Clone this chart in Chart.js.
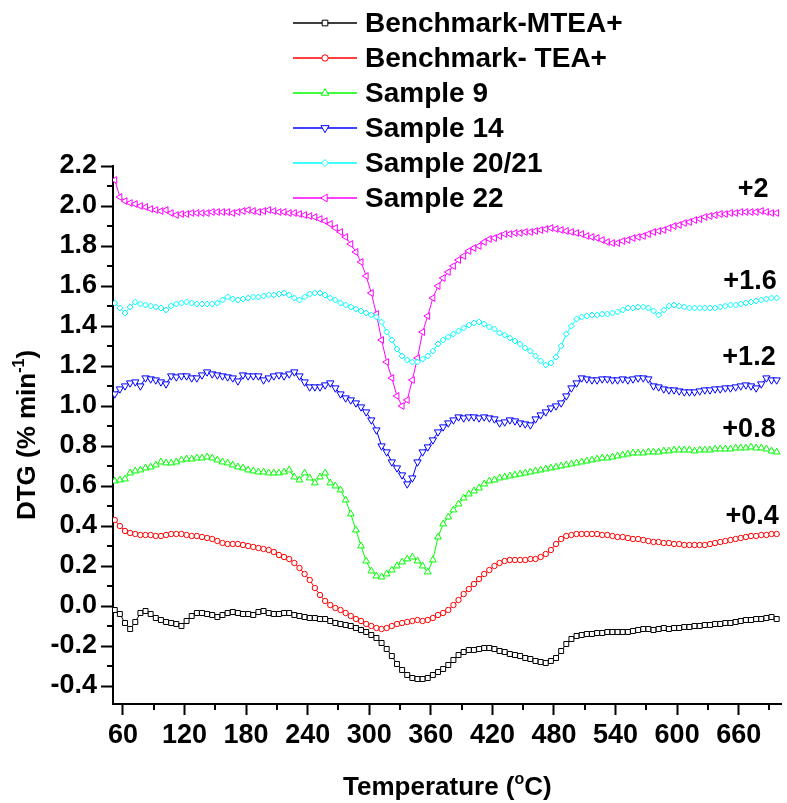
<!DOCTYPE html>
<html>
<head>
<meta charset="utf-8">
<script src="https://cdn.jsdelivr.net/npm/chart.js@4/dist/chart.umd.min.js"></script>
<style>
  html, body { margin: 0; padding: 0; background: #fff; }
  canvas { display: block; }
</style>
</head>
<body>
<canvas id="dtg" width="787" height="803"></canvas>
<script>
// Temperature grid (°C)
const temps = [
  52,57,62,67,72,77,82,87,92,97,
  102,107,112,117,122,127,132,137,142,147,
  152,157,162,167,172,177,182,187,192,197,
  202,207,212,217,222,227,232,237,242,247,
  252,257,262,267,272,277,282,287,292,297,
  302,307,312,317,322,327,332,337,342,347,
  352,357,362,367,372,377,382,387,392,397,
  402,407,412,417,422,427,432,437,442,447,
  452,457,462,467,472,477,482,487,492,497,
  502,507,512,517,522,527,532,537,542,547,
  552,557,562,567,572,577,582,587,592,597,
  602,607,612,617,622,627,632,637,642,647,
  652,657,662,667,672,677,682,687,692,697
];

// DTG (% min-1), curves already shifted as in the figure
const mteaValues = [
  -0.02,-0.04,-0.085,-0.115,-0.08,-0.035,-0.025,-0.04,-0.06,-0.07,
  -0.08,-0.085,-0.09,-0.1,-0.075,-0.05,-0.035,-0.035,-0.04,-0.045,
  -0.055,-0.045,-0.035,-0.03,-0.035,-0.04,-0.04,-0.045,-0.03,-0.025,
  -0.035,-0.04,-0.04,-0.035,-0.035,-0.045,-0.05,-0.055,-0.06,-0.06,
  -0.065,-0.065,-0.075,-0.085,-0.09,-0.095,-0.1,-0.11,-0.12,-0.13,
  -0.145,-0.16,-0.185,-0.215,-0.25,-0.29,-0.32,-0.345,-0.36,-0.365,
  -0.365,-0.36,-0.345,-0.33,-0.315,-0.295,-0.27,-0.245,-0.23,-0.22,
  -0.22,-0.215,-0.21,-0.21,-0.215,-0.225,-0.23,-0.24,-0.245,-0.25,
  -0.26,-0.265,-0.275,-0.28,-0.285,-0.275,-0.26,-0.225,-0.19,-0.165,
  -0.15,-0.145,-0.14,-0.14,-0.135,-0.135,-0.13,-0.13,-0.13,-0.13,
  -0.13,-0.125,-0.12,-0.115,-0.115,-0.12,-0.115,-0.11,-0.115,-0.11,
  -0.11,-0.105,-0.105,-0.1,-0.1,-0.095,-0.095,-0.09,-0.09,-0.085,
  -0.085,-0.08,-0.075,-0.07,-0.07,-0.065,-0.065,-0.06,-0.055,-0.065
];
const teaValues = [
  0.43,0.40,0.375,0.365,0.36,0.355,0.355,0.355,0.35,0.35,
  0.355,0.36,0.36,0.36,0.355,0.35,0.35,0.345,0.34,0.335,
  0.325,0.315,0.31,0.31,0.31,0.305,0.3,0.295,0.29,0.285,
  0.28,0.27,0.255,0.245,0.235,0.215,0.19,0.16,0.13,0.09,
  0.055,0.025,0.005,-0.01,-0.02,-0.035,-0.05,-0.065,-0.075,-0.09,
  -0.1,-0.11,-0.115,-0.11,-0.1,-0.09,-0.085,-0.08,-0.075,-0.07,
  -0.075,-0.07,-0.06,-0.045,-0.035,-0.02,0.005,0.03,0.06,0.085,
  0.11,0.135,0.16,0.18,0.2,0.215,0.225,0.23,0.23,0.23,
  0.23,0.235,0.235,0.245,0.26,0.28,0.31,0.335,0.35,0.355,
  0.36,0.36,0.36,0.36,0.36,0.355,0.355,0.35,0.345,0.345,
  0.34,0.335,0.335,0.33,0.325,0.32,0.32,0.315,0.315,0.31,
  0.31,0.305,0.305,0.305,0.305,0.305,0.31,0.315,0.32,0.325,
  0.33,0.335,0.34,0.345,0.35,0.35,0.355,0.355,0.36,0.36
];
const sample9Values = [
  0.625,0.63,0.635,0.665,0.675,0.68,0.69,0.695,0.705,0.72,
  0.715,0.715,0.72,0.73,0.735,0.735,0.74,0.74,0.745,0.74,
  0.73,0.72,0.715,0.705,0.695,0.69,0.68,0.675,0.67,0.67,
  0.665,0.665,0.665,0.67,0.68,0.645,0.63,0.665,0.64,0.615,
  0.645,0.665,0.615,0.6,0.58,0.53,0.46,0.38,0.3,0.225,
  0.175,0.15,0.145,0.16,0.18,0.2,0.22,0.235,0.245,0.225,
  0.2,0.17,0.23,0.345,0.41,0.445,0.48,0.51,0.54,0.56,
  0.575,0.59,0.61,0.625,0.63,0.64,0.645,0.65,0.655,0.66,
  0.665,0.67,0.675,0.68,0.685,0.69,0.695,0.7,0.705,0.71,
  0.715,0.72,0.725,0.73,0.735,0.74,0.74,0.745,0.75,0.755,
  0.76,0.765,0.765,0.765,0.77,0.77,0.77,0.775,0.775,0.78,
  0.78,0.78,0.78,0.775,0.78,0.78,0.78,0.785,0.785,0.785,
  0.785,0.79,0.79,0.79,0.795,0.79,0.79,0.785,0.775,0.77
];
const sample14Values = [
  1.06,1.085,1.1,1.115,1.12,1.1,1.14,1.135,1.13,1.12,
  1.11,1.15,1.145,1.15,1.15,1.14,1.14,1.155,1.17,1.16,
  1.155,1.15,1.145,1.14,1.125,1.155,1.15,1.15,1.15,1.13,
  1.14,1.15,1.155,1.15,1.16,1.17,1.15,1.12,1.095,1.095,
  1.095,1.105,1.115,1.09,1.06,1.04,1.03,1.015,0.995,0.97,
  0.93,0.88,0.8,0.77,0.72,0.69,0.655,0.61,0.64,0.72,
  0.77,0.795,0.83,0.87,0.895,0.915,0.93,0.945,0.94,0.945,
  0.945,0.94,0.945,0.94,0.935,0.915,0.92,0.93,0.925,0.915,
  0.91,0.905,0.935,0.955,0.97,0.99,1.0,1.015,1.05,1.09,
  1.115,1.14,1.135,1.13,1.13,1.135,1.135,1.13,1.13,1.135,
  1.13,1.135,1.14,1.14,1.135,1.1,1.095,1.085,1.08,1.08,
  1.075,1.07,1.07,1.07,1.075,1.08,1.08,1.085,1.085,1.09,
  1.09,1.095,1.1,1.105,1.1,1.09,1.11,1.14,1.13,1.13
];
const sample2021Values = [
  1.515,1.49,1.465,1.495,1.52,1.51,1.505,1.5,1.495,1.49,
  1.48,1.5,1.51,1.515,1.52,1.515,1.51,1.51,1.51,1.51,
  1.515,1.53,1.545,1.535,1.53,1.535,1.54,1.545,1.545,1.55,
  1.555,1.555,1.56,1.565,1.555,1.54,1.53,1.545,1.56,1.565,
  1.565,1.555,1.54,1.53,1.515,1.505,1.495,1.485,1.475,1.465,
  1.455,1.445,1.42,1.37,1.33,1.285,1.25,1.23,1.22,1.22,
  1.235,1.25,1.275,1.31,1.33,1.345,1.36,1.375,1.39,1.405,
  1.415,1.42,1.41,1.395,1.385,1.365,1.355,1.34,1.325,1.31,
  1.29,1.275,1.25,1.225,1.205,1.215,1.245,1.3,1.36,1.4,
  1.435,1.445,1.45,1.455,1.455,1.46,1.46,1.465,1.47,1.48,
  1.49,1.49,1.495,1.495,1.49,1.475,1.455,1.48,1.5,1.505,
  1.5,1.495,1.49,1.49,1.49,1.49,1.49,1.49,1.495,1.5,
  1.505,1.505,1.51,1.515,1.52,1.525,1.53,1.535,1.54,1.54
];
const sample22Values = [
  2.13,2.045,2.025,2.015,2.01,2.0,1.995,1.985,1.98,1.975,
  1.98,1.965,1.955,1.96,1.96,1.965,1.965,1.965,1.965,1.97,
  1.97,1.97,1.97,1.965,1.97,1.975,1.98,1.975,1.97,1.975,
  1.98,1.975,1.97,1.97,1.965,1.965,1.96,1.955,1.95,1.945,
  1.935,1.925,1.91,1.89,1.87,1.845,1.81,1.77,1.72,1.65,
  1.565,1.46,1.33,1.22,1.14,1.05,1.0,1.03,1.13,1.24,
  1.37,1.45,1.54,1.6,1.64,1.67,1.7,1.73,1.75,1.775,
  1.79,1.8,1.82,1.835,1.84,1.85,1.86,1.86,1.865,1.865,
  1.87,1.87,1.875,1.88,1.885,1.89,1.885,1.88,1.875,1.87,
  1.865,1.86,1.85,1.845,1.84,1.83,1.82,1.815,1.815,1.825,
  1.83,1.84,1.845,1.85,1.86,1.87,1.875,1.88,1.89,1.9,
  1.905,1.915,1.92,1.93,1.935,1.945,1.95,1.955,1.96,1.96,
  1.965,1.965,1.97,1.97,1.97,1.97,1.975,1.97,1.965,1.965
];

const seriesNames = ["Benchmark-MTEA+", "Benchmark- TEA+", "Sample 9", "Sample 14", "Sample 20/21", "Sample 22"];
const seriesValues = [mteaValues, teaValues, sample9Values, sample14Values, sample2021Values, sample22Values];

const xTicks = [60, 120, 180, 240, 300, 360, 420, 480, 540, 600, 660];
const xMinorTicks = [90, 150, 210, 270, 330, 390, 450, 510, 570, 630, 690];
const yTicks = [-0.4, -0.2, 0.0, 0.2, 0.4, 0.6, 0.8, 1.0, 1.2, 1.4, 1.6, 1.8, 2.0, 2.2];
const yMinorTicks = [-0.3, -0.1, 0.1, 0.3, 0.5, 0.7, 0.9, 1.1, 1.3, 1.5, 1.7, 1.9, 2.1];

// offset labels written next to the curves
const offsetLabels = ["+2", "+1.6", "+1.2", "+0.8", "+0.4"];
const offsetLabelX = [689, 697, 696, 696, 699];
const offsetLabelY = [2.08, 1.62, 1.24, 0.88, 0.445];

const FONT = '"Liberation Sans", Arial, Helvetica, sans-serif';
const colors = ["#000000", "#ff0000", "#00ff00", "#0000ff", "#00ffff", "#ff00ff"];
const markers = [
  { style: "rect", rot: 0, r: 3.5 },
  { style: "circle", rot: 0, r: 2.7 },
  { style: "triangle", rot: 0, r: 3.9 },
  { style: "triangle", rot: 180, r: 4.2 },
  { style: "rectRot", rot: 0, r: 3 },
  { style: "triangle", rot: 270, r: 3.9 }
];

// own marker drawing for the legend
function drawMarker(ctx, m, x, y, r) {
  const rad = m.rot * Math.PI / 180;
  ctx.beginPath();
  if (m.style === "rect") {
    const s = Math.SQRT1_2 * r;
    ctx.rect(x - s, y - s, 2 * s, 2 * s);
  } else if (m.style === "circle") {
    ctx.arc(x, y, r, 0, Math.PI * 2);
  } else if (m.style === "rectRot") {
    ctx.moveTo(x - r, y); ctx.lineTo(x, y - r); ctx.lineTo(x + r, y); ctx.lineTo(x, y + r);
    ctx.closePath();
  } else {
    let a = rad;
    ctx.moveTo(x + Math.sin(a) * r, y - Math.cos(a) * r);
    a += 2 * Math.PI / 3;
    ctx.lineTo(x + Math.sin(a) * r, y - Math.cos(a) * r);
    a += 2 * Math.PI / 3;
    ctx.lineTo(x + Math.sin(a) * r, y - Math.cos(a) * r);
    ctx.closePath();
  }
  ctx.fill();
  ctx.stroke();
}

// text with a superscript piece, centred on cx, baseline cy
function drawSupText(ctx, parts, cx, cy, size, supSize, rise) {
  let total = 0;
  parts.forEach(p => {
    ctx.font = "bold " + (p[1] ? supSize : size) + "px " + FONT;
    total += ctx.measureText(p[0]).width;
  });
  let x = cx - total / 2;
  ctx.textAlign = "left";
  ctx.textBaseline = "alphabetic";
  parts.forEach(p => {
    ctx.font = "bold " + (p[1] ? supSize : size) + "px " + FONT;
    ctx.fillText(p[0], x, cy - (p[1] ? rise : 0));
    x += ctx.measureText(p[0]).width;
  });
}

const extras = {
  id: "extras",
  afterDraw(chart) {
    const ctx = chart.ctx;
    const xs = chart.scales.x, ys = chart.scales.y;
    const area = chart.chartArea;
    ctx.save();

    // minor ticks
    ctx.strokeStyle = "#000";
    ctx.lineWidth = 2;
    ctx.beginPath();
    xMinorTicks.forEach(v => {
      const px = Math.round(xs.getPixelForValue(v));
      ctx.moveTo(px, area.bottom);
      ctx.lineTo(px, area.bottom + 6);
    });
    yMinorTicks.forEach(v => {
      const py = Math.round(ys.getPixelForValue(v));
      ctx.moveTo(area.left, py);
      ctx.lineTo(area.left - 6, py);
    });
    ctx.stroke();

    // legend, one column
    chart.data.datasets.forEach((ds, i) => {
      const ly = 23 + i * 35;
      ctx.strokeStyle = ds.borderColor;
      ctx.lineWidth = 1.5;
      ctx.beginPath();
      ctx.moveTo(293, ly);
      ctx.lineTo(357, ly);
      ctx.stroke();
      ctx.lineWidth = 1;
      ctx.fillStyle = "#fff";
      drawMarker(ctx, markers[i], 325, ly, markers[i].r + 0.5);
      ctx.fillStyle = "#000";
      ctx.font = "bold 28px " + FONT;
      ctx.textAlign = "left";
      ctx.textBaseline = "middle";
      ctx.fillText(ds.label, 365, ly + 1);
    });

    // offset labels
    ctx.fillStyle = "#000";
    ctx.font = "bold 27px " + FONT;
    ctx.textAlign = "right";
    ctx.textBaseline = "middle";
    offsetLabels.forEach((t, i) => {
      ctx.fillText(t, xs.getPixelForValue(offsetLabelX[i]), ys.getPixelForValue(offsetLabelY[i]));
    });

    // axis titles
    drawSupText(ctx, [["Temperature (", false], ["o", true], ["C)", false]],
      (area.left + area.right) / 2, 795, 26, 16, 11);
    ctx.translate(35, (area.top + area.bottom) / 2);
    ctx.rotate(-Math.PI / 2);
    drawSupText(ctx, [["DTG (% min", false], ["-1", true], [")", false]], 0, 0, 26, 16, 11);

    ctx.restore();
  }
};

const datasets = seriesNames.map((name, i) => ({
  label: name,
  data: temps.map((t, k) => ({ x: t, y: seriesValues[i][k] })),
  borderColor: colors[i],
  backgroundColor: "#ffffff",
  borderWidth: 1,
  pointStyle: markers[i].style,
  pointRotation: markers[i].rot,
  pointRadius: markers[i].r,
  pointBorderWidth: 1,
  pointBackgroundColor: "#ffffff",
  pointBorderColor: colors[i],
  tension: 0
}));

const tickFont = { family: FONT, size: 27, weight: "bold" };

new Chart(document.getElementById("dtg"), {
  type: "line",
  data: { datasets: datasets },
  options: {
    responsive: false,
    animation: false,
    layout: { padding: { top: 166, right: 1, left: 0, bottom: 0 } },
    plugins: { legend: { display: false }, tooltip: { enabled: false } },
    scales: {
      x: {
        type: "linear",
        min: 50.3,
        max: 702,
        afterBuildTicks: s => { s.ticks = xTicks.map(v => ({ value: v })); },
        afterFit: s => { s.height = 99; },
        grid: { drawOnChartArea: false, drawTicks: true, tickLength: 11, tickWidth: 2, tickColor: "#000" },
        border: { display: true, color: "#000", width: 2 },
        ticks: { color: "#000", font: tickFont, padding: 4, maxRotation: 0, autoSkip: false, callback: v => String(v) }
      },
      y: {
        type: "linear",
        min: -0.49,
        max: 2.2,
        afterBuildTicks: s => { s.ticks = yTicks.map(v => ({ value: v })); },
        afterFit: s => { s.width = 113; },
        grid: { drawOnChartArea: false, drawTicks: true, tickLength: 12, tickWidth: 2, tickColor: "#000" },
        border: { display: true, color: "#000", width: 2 },
        ticks: { color: "#000", font: tickFont, padding: 4, autoSkip: false, callback: v => v.toFixed(1) }
      }
    }
  },
  plugins: [extras]
});
</script>
</body>
</html>
